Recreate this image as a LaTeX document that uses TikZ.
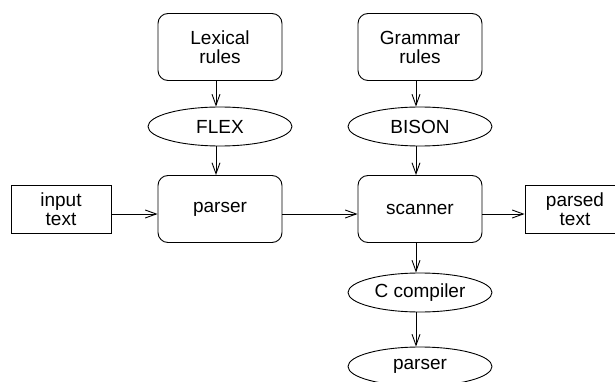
\documentclass[tikz,border=0pt]{standalone}
\usepackage{fontspec}
\setmainfont{Liberation Sans}
\usetikzlibrary{shapes.geometric,arrows.meta}

\begin{document}
\begin{tikzpicture}[x=1pt,y=-1pt,line width=0.9pt,
  txt/.style={align=center,font=\fontsize{19}{19}\selectfont},
  rbox/.style={txt,draw,rounded corners=10pt,minimum width=124pt,minimum height=67pt},
  sbox/.style={txt,draw,minimum width=100pt,minimum height=48pt},
  oval/.style={txt,draw,ellipse,minimum width=144pt,minimum height=39pt,inner sep=0pt},
  arr/.style={-{Straight Barb[length=11pt,width=8pt]}}]
\clip (0,0) rectangle (615,382);

\node[rbox] (lex) at (220,47) {Lexical\\rules};
\node[rbox] (gram) at (420,47) {Grammar\\rules};
\node[oval] (flex) at (220,126.5) {FLEX};
\node[oval] (bison) at (420,126.5) {BISON};
\node[rbox] (pars) at (220,209) {parser};
\node[rbox] (scan) at (420,209) {scanner};
\node[sbox] (inp) at (61,209) {input\\text};
\node[sbox] (outp) at (575,209) {parsed\\text};
\node[oval] (ccomp) at (420,292.5) {C compiler};
\node[oval] (prog) at (420,366.5) {parser};

\draw[arr] ([xshift=-4pt]lex.south) -- ([xshift=-4pt]flex.north);
\draw[arr] ([xshift=-4pt]flex.south) -- ([xshift=-4pt]pars.north);
\draw[arr] ([xshift=-4pt]gram.south) -- ([xshift=-4pt]bison.north);
\draw[arr] ([xshift=-4pt]bison.south) -- ([xshift=-4pt]scan.north);
\draw[arr] ([yshift=-5pt]inp.east) -- ([yshift=-5pt]pars.west);
\draw[arr] ([yshift=-5pt]pars.east) -- ([yshift=-5pt]scan.west);
\draw[arr] ([yshift=-5pt]scan.east) -- ([yshift=-5pt]outp.west);
\draw[arr] ([xshift=-4pt]scan.south) -- ([xshift=-4pt]ccomp.north);
\draw[arr] ([xshift=-4pt]ccomp.south) -- ([xshift=-4pt]prog.north);

\end{tikzpicture}
\end{document}
